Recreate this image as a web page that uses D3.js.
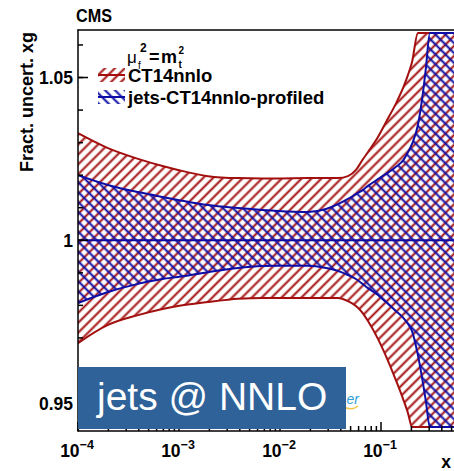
<!DOCTYPE html>
<html><head><meta charset="utf-8">
<script src="https://cdn.jsdelivr.net/npm/d3@7"></script>
<style>body{margin:0;background:#fff} svg{display:block} text{font-family:"Liberation Sans",Arial,Helvetica,sans-serif}</style>
</head><body><svg id="c" width="454" height="471"></svg>
<script>
// ---- data ----
const xGrid = [1.0e-4, 1.98e-4, 3.93e-4, 6.87e-4, 9.77e-4, 1.94e-3, 3.84e-3, 6.71e-3, 9.55e-3, 0.0189, 0.0285, 0.0375, 0.0471, 0.0565, 0.0656, 0.0743, 0.0933, 0.112, 0.140, 0.167, 0.185, 0.203, 0.232, 0.259, 0.277, 0.305, 0.366, 0.460, 0.553, 0.76];
const ct14Up = [1.0329, 1.0283, 1.0250, 1.0228, 1.0216, 1.0197, 1.0191, 1.0190, 1.0190, 1.0191, 1.0191, 1.0191, 1.0197, 1.0216, 1.0247, 1.0271, 1.0317, 1.0363, 1.0419, 1.0471, 1.0508, 1.0548, 1.0637, 1.0637, 1.0637, 1.0637, 1.0637, 1.0637, 1.0637, 1.0637];
const ct14Lo = [0.9684, 0.9740, 0.9770, 0.9789, 0.9798, 0.9810, 0.9820, 0.9823, 0.9823, 0.9823, 0.9823, 0.9823, 0.9813, 0.9798, 0.9777, 0.9752, 0.9697, 0.9644, 0.9571, 0.9509, 0.9469, 0.9426, 0.9426, 0.9426, 0.9426, 0.9426, 0.9426, 0.9426, 0.9426, 0.9426];
const profUp = [1.0200, 1.0170, 1.0148, 1.0133, 1.0124, 1.0108, 1.0099, 1.0093, 1.0090, 1.0087, 1.0096, 1.0111, 1.0127, 1.0142, 1.0154, 1.0167, 1.0188, 1.0204, 1.0225, 1.0247, 1.0271, 1.0296, 1.0354, 1.0449, 1.0523, 1.0637, 1.0637, 1.0637, 1.0637, 1.0637];
const profLo = [0.9807, 0.9841, 0.9866, 0.9881, 0.9887, 0.9902, 0.9915, 0.9921, 0.9922, 0.9922, 0.9915, 0.9906, 0.9893, 0.9881, 0.9866, 0.9853, 0.9832, 0.9810, 0.9783, 0.9761, 0.9743, 0.9721, 0.9647, 0.9565, 0.9509, 0.9426, 0.9426, 0.9426, 0.9426, 0.9426];
const centralX = [1e-4, 1];
const centralY = [1, 1];
const yMajor = [0.95, 1, 1.05];
const yMajorLabels = ["0.95", "1", "1.05"];
const yMinor = [0.95, 0.96, 0.97, 0.98, 0.99, 1.00, 1.01, 1.02, 1.03, 1.04, 1.05, 1.06];
const xMajor = [1e-4, 1e-3, 1e-2, 1e-1];
const xMajorExp = ["\u22124", "\u22123", "\u22122", "\u22121"];
const legendLabels = ["CT14nnlo", "jets-CT14nnlo-profiled"];

// ---- drawing ----
const RED = "#a30f0f", BLUE = "#0d0da6";
const W = 454, H = 471;
const svg = d3.select("#c");
const x = d3.scaleLog().domain([1e-4, 1e-1]).range([78, 381]);
const y = d3.scaleLinear().domain([0.9414, 1.0646]).range([431, 30]);
const defs = svg.append("defs");
function hatch(id, color, angle) {
  const s = 7.0;
  const p = defs.append("pattern").attr("id", id).attr("patternUnits", "userSpaceOnUse")
    .attr("width", s).attr("height", s).attr("patternTransform", `rotate(${angle})`);
  p.append("line").attr("x1", s/2).attr("x2", s/2).attr("y1", -1).attr("y2", s+1)
    .attr("stroke", color).attr("stroke-width", 2);
}
hatch("hr", RED, 45);
hatch("hb", BLUE, -45);
defs.append("clipPath").attr("id", "clip").append("rect")
  .attr("x", 78).attr("y", 30).attr("width", W - 78).attr("height", 401);

const curve = d3.curveMonotoneX;
const areaGen = (lo, up) => d3.area().x((d, i) => x(xGrid[i])).y0((d, i) => y(lo[i])).y1((d, i) => y(up[i])).curve(curve)(xGrid);
const lineGen = (v) => d3.line().x((d, i) => x(xGrid[i])).y((d, i) => y(v[i])).curve(curve)(xGrid);

const g = svg.append("g").attr("clip-path", "url(#clip)");
g.append("path").attr("d", areaGen(ct14Lo, ct14Up)).attr("fill", "url(#hr)");
[ct14Up, ct14Lo].forEach(v => g.append("path").attr("d", lineGen(v)).attr("fill", "none").attr("stroke", RED).attr("stroke-width", 2));
g.append("path").attr("d", areaGen(profLo, profUp)).attr("fill", "url(#hb)");
[profUp, profLo].forEach(v => g.append("path").attr("d", lineGen(v)).attr("fill", "none").attr("stroke", BLUE).attr("stroke-width", 2));
g.append("path").attr("d", d3.line().x(d => x(d[0])).y(d => y(d[1]))(centralX.map((v, i) => [v, centralY[i]])))
  .attr("stroke", BLUE).attr("stroke-width", 2).attr("fill", "none");

// frame
const fr = svg.append("g").attr("stroke", "#000").attr("stroke-width", 1.5).attr("fill", "none");
fr.append("line").attr("x1", 78).attr("x2", 78).attr("y1", 29.5).attr("y2", 431.5);
fr.append("line").attr("x1", 77.5).attr("x2", W).attr("y1", 431).attr("y2", 431);
fr.append("line").attr("x1", 77.5).attr("x2", W).attr("y1", 30).attr("y2", 30);

// y ticks
yMinor.forEach(v => fr.append("line").attr("x1", 78).attr("x2", 83).attr("y1", y(v)).attr("y2", y(v)));
yMajor.forEach(v => fr.append("line").attr("x1", 78).attr("x2", 88).attr("y1", y(v)).attr("y2", y(v)));
yMajor.forEach((v, i) => svg.append("text").attr("x", 73).attr("y", y(v) + 6.5).attr("text-anchor", "end")
  .attr("font-size", 17.5).attr("font-weight", "bold").text(yMajorLabels[i]));

// x ticks
xMajor.forEach(d => {
  fr.append("line").attr("x1", x(d)).attr("x2", x(d)).attr("y1", 431).attr("y2", 422);
  for (let k = 2; k <= 9; k++) {
    const m = d * k;
    fr.append("line").attr("x1", x(m)).attr("x2", x(m)).attr("y1", 431).attr("y2", 426);
  }
});
xMajor.forEach((d, i) => {
  const t = svg.append("text").attr("x", x(d) - 1).attr("y", 457).attr("text-anchor", "middle")
    .attr("font-size", 17.5).attr("font-weight", "bold");
  t.append("tspan").text("10");
  t.append("tspan").attr("dy", -8).attr("font-size", 12.5).text(xMajorExp[i]);
});
svg.append("text").attr("x", 451).attr("y", 468).attr("text-anchor", "end").attr("font-size", 17.5)
  .attr("font-weight", "bold").text("x");
svg.append("text").attr("transform", "translate(33,32) rotate(-90)").attr("text-anchor", "end")
  .attr("font-size", 18).attr("font-weight", "bold").text("Fract. uncert. xg");
svg.append("text").attr("x", 76).attr("y", 22).attr("font-size", 18.5).attr("font-weight", "bold")
  .attr("textLength", 36).attr("lengthAdjust", "spacingAndGlyphs").text("CMS");

// legend
const lg = svg.append("g");
lg.append("text").attr("x", 127).attr("y", 63).attr("font-size", 17).text("\u03bc");
lg.append("text").attr("x", 138).attr("y", 69).attr("font-size", 10).text("f");
lg.append("text").attr("x", 140).attr("y", 52).attr("font-size", 12).attr("font-weight", "bold").text("2");
lg.append("text").attr("x", 149).attr("y", 63).attr("font-size", 18).attr("font-weight", "bold").text("=");
lg.append("text").attr("x", 161).attr("y", 63).attr("font-size", 18).attr("font-weight", "bold").text("m");
lg.append("text").attr("x", 178.5).attr("y", 68).attr("font-size", 10).attr("font-weight", "bold").text("t");
lg.append("text").attr("x", 178.5).attr("y", 54).attr("font-size", 10).attr("font-weight", "bold").text("2");
const sw = [["hr", RED, 68], ["hb", BLUE, 90]];
sw.forEach((s, i) => {
  lg.append("rect").attr("x", 98).attr("y", s[2]).attr("width", 27).attr("height", 14).attr("fill", `url(#${s[0]})`);
  lg.append("line").attr("x1", 98).attr("x2", 125).attr("y1", s[2] + 7).attr("y2", s[2] + 7).attr("stroke", s[1]).attr("stroke-width", 2);
  lg.append("text").attr("x", 128).attr("y", s[2] + 14).attr("font-size", 18.5).attr("font-weight", "bold").text(legendLabels[i]);
});

// logo fragment and label box
svg.append("path").attr("d", "M344,407 Q352,411 358,406").attr("stroke", "#f2c54a").attr("stroke-width", 1.5).attr("fill", "none");
svg.append("text").attr("x", 359).attr("y", 404).attr("text-anchor", "end").attr("font-size", 14)
  .attr("font-style", "italic").attr("fill", "#2f9fd8").text("er");
svg.append("rect").attr("x", 78).attr("y", 367).attr("width", 268).attr("height", 62).attr("fill", "#2e6299");
svg.append("text").attr("x", 97).attr("y", 410).attr("font-size", 39).attr("fill", "#fff").text("jets @ NNLO");
</script></body></html>
